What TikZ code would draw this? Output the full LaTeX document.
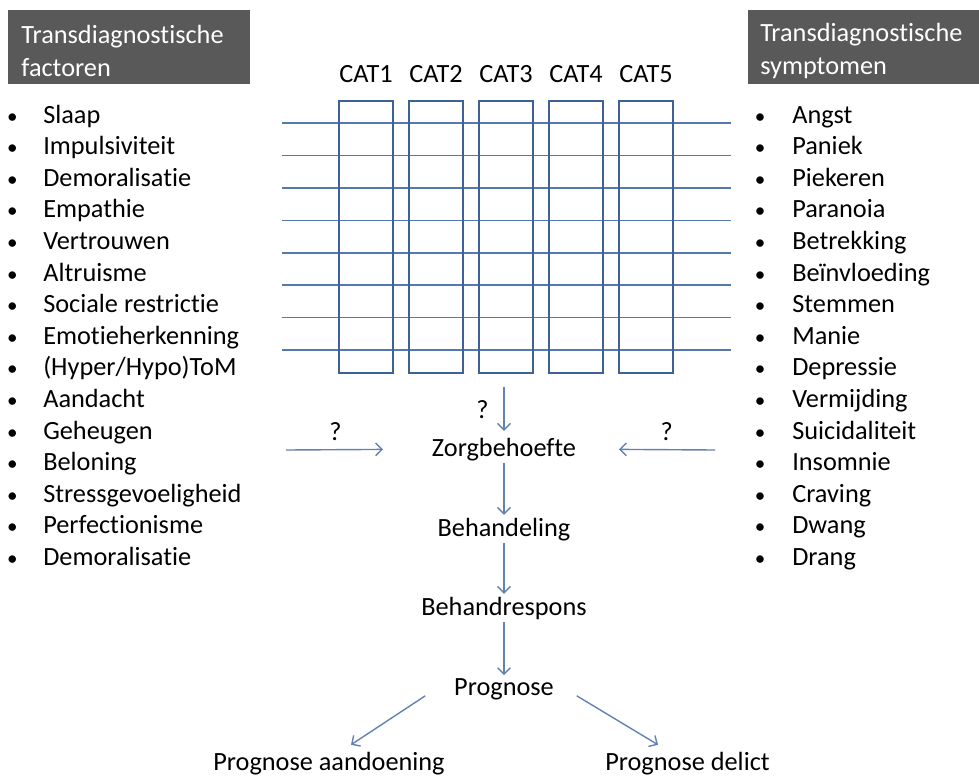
\documentclass[tikz,border=0pt]{standalone}
\usepackage{fontspec}
\setmainfont{Carlito}[Ligatures=NoCommon]
\usetikzlibrary{arrows.meta}
\definecolor{hdrgrey}{HTML}{595959}
\definecolor{boxblue}{HTML}{3E6295}
\definecolor{lineblue}{HTML}{5479AD}
\definecolor{arrblue}{HTML}{6283B0}
\newcommand{\hdrstrut}{\rule{0pt}{18.5pt}}

\begin{document}
\begin{tikzpicture}[x=0.025cm,y=-0.025cm,
  every node/.style={font=\fontsize{18.7}{23.5}\selectfont},
  hdr/.style={fill=hdrgrey,text=white,align=left,anchor=north west,inner ysep=0pt,minimum height=1.85cm},
  item/.style={anchor=base west,inner sep=0pt},
  bul/.style={anchor=base,inner sep=0pt,font=\fontsize{15}{15}\selectfont},
  catbox/.style={draw=boxblue,line width=1.4pt},
  hline/.style={draw=lineblue,line width=1.1pt},
  arr/.style={draw=arrblue,line width=1pt,-{Straight Barb[length=1.6mm,width=3.2mm]}}]
\useasboundingbox (0,0) rectangle (979,778);

\node[hdr,inner xsep=0.33cm,text width=5.39cm] (hfac) at (8,10) {\hdrstrut Transdiagnostische\\factoren};
\node[hdr,inner xsep=0.3cm,text width=5.18cm] (hsym) at (748,10) {\hdrstrut Transdiagnostische\\symptomen};

\foreach \t [count=\i] in {Slaap,Impulsiviteit,Demoralisatie,Empathie,Vertrouwen,Altruisme,Sociale restrictie,Emotieherkenning,(Hyper/Hypo)ToM,Aandacht,Geheugen,Beloning,Stressgevoeligheid,Perfectionisme,Demoralisatie}{
  \node[bul] (fb\i) at (12.5,91.4+31.6*\i) {\textbullet};
  \node[item] (f\i) at (43,91.4+31.6*\i) {\t};
}
\foreach \t [count=\i] in {Angst,Paniek,Piekeren,Paranoia,Betrekking,Beïnvloeding,Stemmen,Manie,Depressie,Vermijding,Suicidaliteit,Insomnie,Craving,Dwang,Drang}{
  \node[bul] (sb\i) at (760,91.4+31.6*\i) {\textbullet};
  \node[item] (s\i) at (792,91.4+31.6*\i) {\t};
}

\foreach \j in {0,...,7}
  \draw[hline] (282,123+32.43*\j) -- (731,123+32.43*\j);
\foreach \i in {1,...,5}{
  \draw[catbox] (339+70*\i-70,101) rectangle ++(54,272);
  \node[anchor=base] (cat\i) at (366+70*\i-70,82) {CAT\i};
}

\node[anchor=base] (zorg) at (504,456) {Zorgbehoefte};
\node[anchor=base] (behand) at (504,536) {Behandeling};
\node[anchor=base] (resp) at (504,615) {Behandrespons};
\node[anchor=base] (prog) at (504,695) {Prognose};
\node[anchor=base] (pa) at (329,770) {Prognose aandoening};
\node[anchor=base] (pd) at (687.5,770) {Prognose delict};

\coordinate (catout) at (504,387);
\coordinate (facout) at (286,450);
\coordinate (symout) at (715,450);

\draw[arr,shorten >=0.05cm] (catout) -- node[left=0.25cm] (q1) {?} (zorg);
\draw[arr,shorten >=1.1cm] (facout) -- node[pos=0.35,above=0.1cm] (q2) {?} (zorg.west);
\draw[arr,shorten >=0.95cm] (symout) -- node[pos=0.36,above=0.1cm] (q3) {?} (zorg.east);
\draw[arr,shorten <=-0.05cm,shorten >=-0.05cm] (zorg) -- (behand);
\draw[arr,shorten <=-0.05cm,shorten >=-0.05cm] (behand) -- (resp);
\draw[arr,shorten <=-0.05cm,shorten >=-0.05cm] (resp) -- (prog);
\draw[arr] ([shift={(-24,7)}]prog.west) -- ([shift={(22,-2)}]pa.north);
\draw[arr] ([shift={(18,7)}]prog.east) -- ([shift={(-29.5,-2)}]pd.north);
\end{tikzpicture}
\end{document}
